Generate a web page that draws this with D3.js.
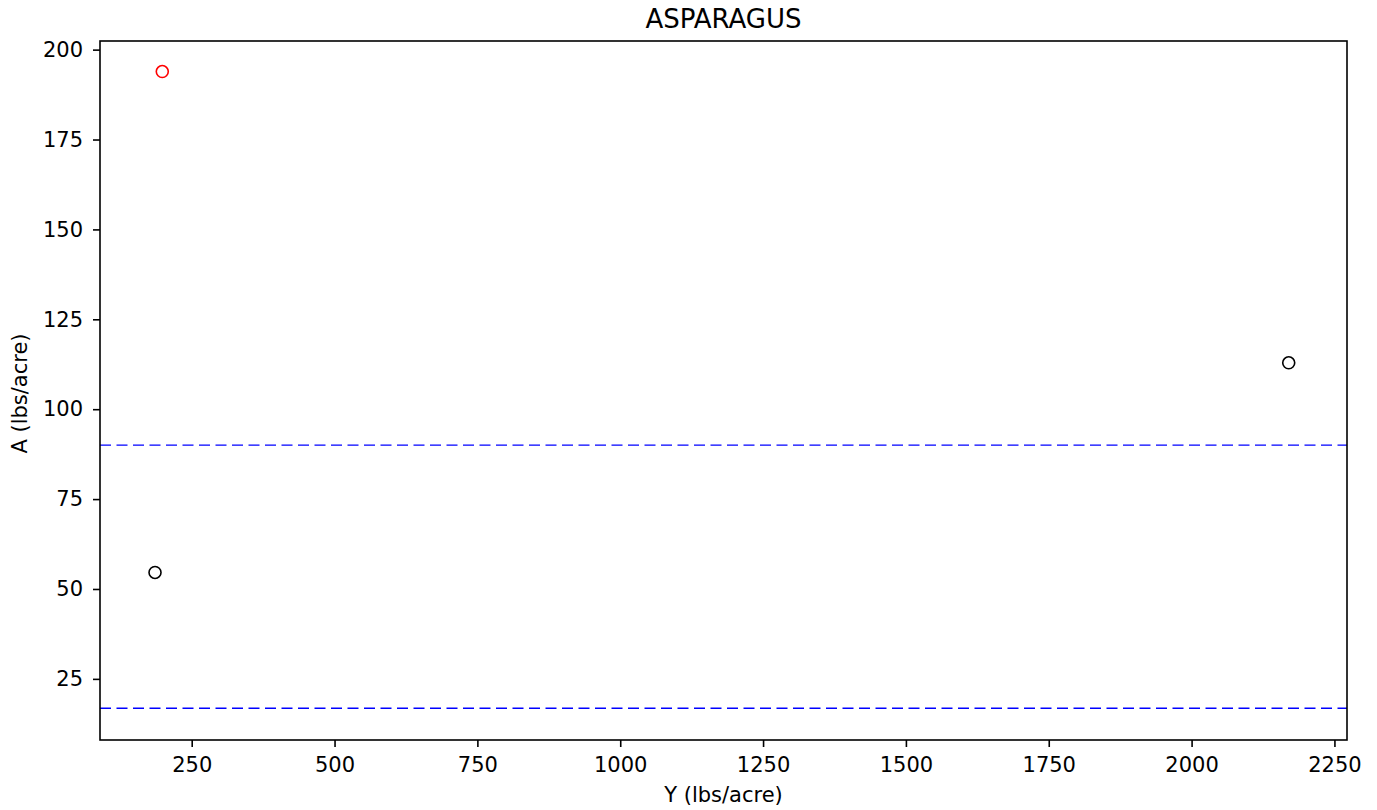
<!DOCTYPE html>
<html>
<head>
<meta charset="utf-8">
<script src="https://cdn.jsdelivr.net/npm/d3@7"></script>
<style>
  html, body { margin: 0; padding: 0; background: #fff; }
  svg { display: block; font-family: "DejaVu Sans", sans-serif; }
</style>
</head>
<body>
<svg id="chart" width="1377" height="810"></svg>
<script>
// Asparagus: yield (Y) against application (A), both in lbs/acre
const chartTitle = "ASPARAGUS";
const xLabel = "Y (lbs/acre)";
const yLabel = "A (lbs/acre)";

const normalX = [185.8, 2170];
const normalY = [54.6, 112.9];
const flaggedX = [198.5];
const flaggedY = [193.9];

const refLines = [16.85, 90.0];

const xTicks = [250, 500, 750, 1000, 1250, 1500, 1750, 2000, 2250];
const yTicks = [25, 50, 75, 100, 125, 150, 175, 200];

const xDomain = [89.5, 2272];
const yDomain = [8.0, 202.4];

const W = 1377, H = 810;
const m = { left: 100, right: W - 1347, top: 41, bottom: H - 740 };

const svg = d3.select("#chart");
const x = d3.scaleLinear().domain(xDomain).range([m.left, W - m.right]);
const y = d3.scaleLinear().domain(yDomain).range([H - m.bottom, m.top]);

const plot = svg.append("g");

// dashed horizontal reference lines
plot.selectAll("line.ref").data(refLines).join("line")
  .attr("class", "ref")
  .attr("x1", m.left).attr("x2", W - m.right)
  .attr("y1", d => y(d)).attr("y2", d => y(d))
  .attr("stroke", "#0000ff").attr("stroke-width", 1.4)
  .attr("stroke-dasharray", "11,5.5");

// points
const pts = normalX.map((v, i) => ({ x: v, y: normalY[i], c: "#000" }))
  .concat(flaggedX.map((v, i) => ({ x: v, y: flaggedY[i], c: "#ff0000" })));
plot.selectAll("circle").data(pts).join("circle")
  .attr("cx", d => x(d.x)).attr("cy", d => y(d.y))
  .attr("r", 6)
  .attr("fill", "none").attr("stroke", d => d.c).attr("stroke-width", 1.6);

// axes
const xAxis = d3.axisBottom(x).tickValues(xTicks).tickSize(7).tickPadding(10.5).tickFormat(d3.format("d"));
const yAxis = d3.axisLeft(y).tickValues(yTicks).tickSize(7).tickPadding(10).tickFormat(d3.format("d"));

const gx = svg.append("g").attr("transform", `translate(0,${H - m.bottom})`).call(xAxis);
const gy = svg.append("g").attr("transform", `translate(${m.left},0)`).call(yAxis);
[gx, gy].forEach(g => {
  g.select(".domain").remove();
  g.selectAll(".tick line").attr("stroke", "#000").attr("stroke-width", 1.6);
  g.selectAll(".tick text").attr("fill", "#000").style("font-size", "21px")
    .style("font-family", "'DejaVu Sans', sans-serif");
});

// frame
svg.append("rect")
  .attr("x", m.left).attr("y", m.top)
  .attr("width", W - m.left - m.right).attr("height", H - m.top - m.bottom)
  .attr("fill", "none").attr("stroke", "#000").attr("stroke-width", 1.6);

// title and axis labels
svg.append("text")
  .attr("x", (m.left + W - m.right) / 2).attr("y", 28)
  .attr("text-anchor", "middle").style("font-size", "26px")
  .text(chartTitle);

svg.append("text")
  .attr("x", (m.left + W - m.right) / 2).attr("y", 802)
  .attr("text-anchor", "middle").style("font-size", "21px")
  .text(xLabel);

svg.append("text")
  .attr("transform", `translate(27,${(m.top + H - m.bottom) / 2 + 3}) rotate(-90)`)
  .attr("text-anchor", "middle").style("font-size", "21px")
  .text(yLabel);
</script>
</body>
</html>
